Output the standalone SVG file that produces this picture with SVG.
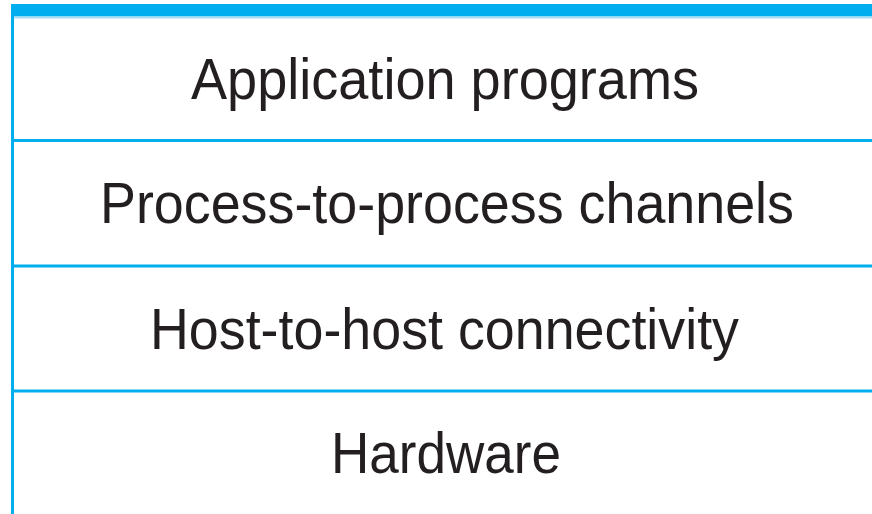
<svg xmlns="http://www.w3.org/2000/svg" width="872" height="514" viewBox="0 0 872 514">
<style>
.ln{stroke:#00AEEF;stroke-width:3;fill:none}
.t{font-family:"Liberation Sans",Arial,sans-serif;font-size:57px;fill:#231f20;text-anchor:middle}
</style>
<rect width="872" height="514" fill="#ffffff"/>
<g id="frame">
<rect x="11" y="4" width="861" height="12.5" fill="#00AEEF"/>
<rect x="11" y="16.5" width="861" height="2" fill="#a8dcf4"/>
<line class="ln" x1="12.5" y1="10" x2="12.5" y2="514"/>
</g>
<g id="connectors">
<line class="ln" x1="12.5" y1="140.5" x2="872" y2="140.5"/>
<line class="ln" x1="12.5" y1="266" x2="872" y2="266"/>
<line class="ln" x1="12.5" y1="391" x2="872" y2="391"/>
</g>
<g id="layer-application"><text class="t" x="445" y="98.5" textLength="508" lengthAdjust="spacingAndGlyphs">Application programs</text></g>
<g id="layer-process"><text class="t" x="447" y="223" textLength="694" lengthAdjust="spacingAndGlyphs">Process-to-process channels</text></g>
<g id="layer-host"><text class="t" x="444.5" y="349" textLength="589" lengthAdjust="spacingAndGlyphs">Host-to-host connectivity</text></g>
<g id="layer-hardware"><text class="t" x="446" y="473" textLength="230" lengthAdjust="spacingAndGlyphs">Hardware</text></g>
</svg>
